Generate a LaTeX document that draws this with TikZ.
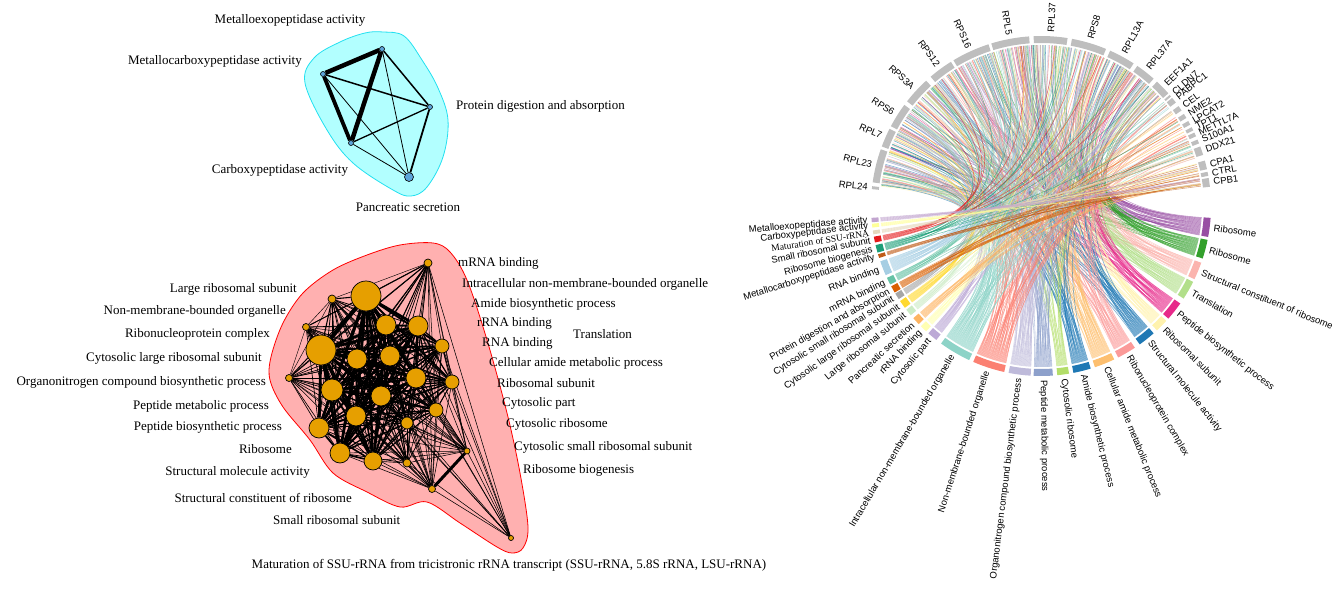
\documentclass[tikz,border=0pt]{standalone}
\usepackage{fontspec}
\setmainfont{Liberation Serif}
\newfontfamily\chordfont{Liberation Sans}
\usetikzlibrary{arrows}

\pgfdeclarelayer{hull}
\pgfdeclarelayer{edges}
\pgfsetlayers{hull,edges,main}

\definecolor{cyanhull}{HTML}{B2FFFF}
\definecolor{cyanline}{HTML}{22E0F0}
\definecolor{cyanball}{HTML}{5DA5DA}
\definecolor{redhull}{HTML}{FFB0B0}
\definecolor{goorange}{HTML}{E69F00}
\definecolor{genegray}{HTML}{BEBEBE}
\definecolor{trpurple}{HTML}{984EA3}
\definecolor{trgreen}{HTML}{33A02C}
\definecolor{trpink}{HTML}{FBB4AE}
\definecolor{trlgreen}{HTML}{B2DF8A}
\definecolor{trmagenta}{HTML}{E7298A}
\definecolor{trpyellow}{HTML}{FFF2AE}
\definecolor{trblue}{HTML}{1F78B4}
\definecolor{trsalmon}{HTML}{FB9A99}
\definecolor{trlorange}{HTML}{FDBF6F}
\definecolor{trylgreen}{HTML}{B3DE69}
\definecolor{trslate}{HTML}{8DA0CB}
\definecolor{trlav}{HTML}{BEBADA}
\definecolor{trred}{HTML}{FB8072}
\definecolor{trteal}{HTML}{8DD3C7}
\definecolor{trlavb}{HTML}{BCA9D6}
\definecolor{trlyellow}{HTML}{FFFFB3}
\definecolor{trorange}{HTML}{FDB462}
\definecolor{trlteal}{HTML}{CCEBC5}
\definecolor{trgold}{HTML}{FFD92F}
\definecolor{trgray}{HTML}{A6A6A6}
\definecolor{trdorange}{HTML}{D95F02}
\definecolor{trgteal}{HTML}{66C2A5}
\definecolor{trlblue}{HTML}{A6CEE3}
\definecolor{trbrown}{HTML}{BF5B17}
\definecolor{trdgreen}{HTML}{1B9E77}
\definecolor{trcrimson}{HTML}{E41A1C}
\definecolor{trbeige}{HTML}{E5D8BD}
\definecolor{tryellow}{HTML}{FFFF99}
\definecolor{trmauve}{HTML}{C2A5CF}

\tikzset{
  lbl/.style={inner sep=0pt, font=\fontsize{13}{15}\selectfont},
  cnode/.style={circle, draw=black, fill=cyanball, inner sep=0pt, minimum size=5pt, line width=0.6pt},
  onode/.style={circle, draw=black, fill=goorange, inner sep=0pt, line width=0.7pt},
  glabel/.style={inner sep=0pt, font=\chordfont\fontsize{9.5}{10}\selectfont},
  link/.style={line width=0.55pt, draw opacity=0.6},
}

\def\radii{{4,15,4,10,10,7,3.5,15,10,10,3.5,10,7,11,10,7,10,6,10,10,9,4,3,3.5,2.5}}

\begin{document}
\begin{tikzpicture}[x=1pt, y=-1pt]
\useasboundingbox (0,0) rectangle (1344,593);

% peptidase cluster
\node[cnode](mexo) at (382,49) {};
\node[cnode](mcarb) at (323,74) {};
\node[cnode](pdig) at (430,107) {};
\node[cnode](carb) at (351,143) {};
\node[cnode, minimum size=9pt](psec) at (409,177) {};
\node[lbl](l-mexo) at (290,20) {Metalloexopeptidase activity};
\node[lbl, anchor=east](l-mcarb) at (302,61) {Metallocarboxypeptidase activity};
\node[lbl, anchor=west](l-pdig) at (456,106) {Protein digestion and absorption};
\node[lbl](l-carb) at (280,170) {Carboxypeptidase activity};
\node[lbl](l-psec) at (408,207) {Pancreatic secretion};
%
\begin{pgfonlayer}{hull}
\fill[cyanhull, draw=cyanline, line width=0.8pt] plot[smooth cycle, tension=0.6] coordinates {
  (383,32) (404,36) (422,60) (438,88) (448,120) (443,157) (427,187) (411,196)
  (393,190) (353,163) (327,130) (305,83) (314,58) (340,42) (365,33)};
\end{pgfonlayer}
\begin{pgfonlayer}{edges}
\draw[line width=4.5pt](mcarb) -- (mexo);
\draw[line width=3.8pt](mcarb) -- (carb);
\draw[line width=4.5pt](mexo) -- (carb);
\draw[line width=1.5pt](mcarb) -- (pdig);
\draw[line width=1.5pt](mexo) -- (pdig);
\draw[line width=1.3pt](carb) -- (pdig);
\draw[line width=1.8pt](pdig) -- (psec);
\draw[line width=0.8pt](mexo) -- (psec);
\draw[line width=0.8pt](mcarb) -- (psec);
\draw[line width=0.8pt](carb) -- (psec);
\end{pgfonlayer}

% ribosome cluster
\foreach \x/\y/\r [count=\i] in {428/263/4, 366/296/15, 332/299/4, 386/325/10, 418/326/10,
    442/346/7, 306/327/3.5, 321/350/15, 357/359/10, 390/356/10, 289/378/3.5, 416/378/10,
    452/382/7, 332/390/11, 381/396/10, 436/410/7, 356/416/10, 407/423/6, 319/428/10,
    340/453/10, 373/461/9, 407/463/4, 467/451/3, 432/489/3.5, 511/538/2.5}
  \node[onode, minimum size=2*\r pt](n\i) at (\x,\y) {};
%
\begin{pgfonlayer}{hull}
\fill[redhull, draw=red, line width=0.8pt] plot[smooth cycle, tension=0.55] coordinates {
  (433,243) (450,252) (467,280) (487,340) (507,413) (520,473) (528,527) (523,548)
  (512,553) (497,547) (460,523) (427,502) (400,507) (367,492) (333,473) (310,440)
  (283,407) (270,380) (271,357) (283,323) (303,293) (333,270) (367,255) (400,245)};
\end{pgfonlayer}
\begin{pgfonlayer}{edges}
\foreach \i in {1,...,22} {
  \foreach \j in {\i,...,22} {
    \ifnum\j>\i
      \pgfmathsetmacro\w{max(0.45,\radii[\i-1]*\radii[\j-1]/55)}
      \draw[line width=\w pt](n\i) -- (n\j);
    \fi
  }
}
\foreach \j in {1,...,22} {
  \draw[line width=0.55pt](n23) -- (n\j);
  \draw[line width=0.55pt](n24) -- (n\j);
}
\draw[line width=3pt](n23) -- (n24);
\foreach \j in {1,5,6,9,12,13,15,16,18,22,23,24}
  \draw[line width=0.55pt](n25) -- (n\j);
\end{pgfonlayer}
%
\node[lbl, anchor=east](l-lrs) at (297,289) {Large ribosomal subunit};
\node[lbl, anchor=east](l-nmb) at (286,311) {Non-membrane-bounded organelle};
\node[lbl, anchor=east](l-rnp) at (270,334) {Ribonucleoprotein complex};
\node[lbl, anchor=east](l-clr) at (262,358) {Cytosolic large ribosomal subunit};
\node[lbl, anchor=east](l-onc) at (266,382) {Organonitrogen compound biosynthetic process};
\node[lbl, anchor=east](l-pmp) at (269,406) {Peptide metabolic process};
\node[lbl, anchor=east](l-pbp) at (282,427) {Peptide biosynthetic process};
\node[lbl, anchor=east](l-rib) at (292,449) {Ribosome};
\node[lbl, anchor=east](l-sma) at (310,472) {Structural molecule activity};
\node[lbl, anchor=east](l-scr) at (352,498) {Structural constituent of ribosome};
\node[lbl, anchor=west](l-srs) at (273,520) {Small ribosomal subunit};
\node[lbl, anchor=west](l-mrna) at (458,263) {mRNA binding};
\node[lbl, anchor=west](l-inb) at (462,284) {Intracellular non-membrane-bounded organelle};
\node[lbl, anchor=west](l-abp) at (471,304) {Amide biosynthetic process};
\node[lbl, anchor=west](l-rrna) at (477,323) {rRNA binding};
\node[lbl, anchor=west](l-trl) at (573,334) {Translation};
\node[lbl, anchor=west](l-rna) at (482,343) {RNA binding};
\node[lbl, anchor=west](l-cam) at (489,363) {Cellular amide metabolic process};
\node[lbl, anchor=west](l-rsu) at (497,383) {Ribosomal subunit};
\node[lbl, anchor=west](l-cpt) at (502,403) {Cytosolic part};
\node[lbl, anchor=west](l-cro) at (506,424) {Cytosolic ribosome};
\node[lbl, anchor=west](l-csr) at (514,447) {Cytosolic small ribosomal subunit};
\node[lbl, anchor=west](l-rbg) at (523,470) {Ribosome biogenesis};
\node[lbl](l-mat) at (509,565) {Maturation of SSU-rRNA from tricistronic rRNA transcript (SSU-rRNA, 5.8S rRNA, LSU-rRNA)};

% chord plot
\begin{scope}[shift={(1041,206)}, yscale=-1]
\pgfmathsetseed{42}
\foreach \a/\b/\col/\lo/\hi/\txt [count=\i] in {
    349.5/356/trpurple/41/173/Ribosome,
    342/348.5/trgreen/41/173/Ribosome,
    334.5/340.5/trpink/41/173/Structural constituent of ribosome,
    327/333.5/trlgreen/41/173/Translation,
    318.5/325/trmagenta/41/173/Peptide biosynthetic process,
    313/317.5/trpyellow/41/173/Ribosomal subunit,
    305.5/311.5/trblue/41/173/Structural molecule activity,
    297/303.5/trsalmon/17/173/Ribonucleoprotein complex,
    288.5/295.5/trlorange/41/173/Cellular amide metabolic process,
    281/287/trblue/41/173/Amide biosynthetic process,
    275.5/279.5/trylgreen/41/173/Cytosolic ribosome,
    267.5/274/trslate/41/173/Peptide metabolic process,
    259/266.5/trlav/41/173/Organonitrogen compound biosynthetic process,
    246.5/257.5/trred/17/173/Non-membrane-bounded organelle,
    234/245/trteal/17/173/Intracellular non-membrane-bounded organelle,
    228.5/232/trlavb/41/173/Cytosolic part,
    225/227.5/trlyellow/17/173/rRNA binding,
    221.3/224/trorange/7/36/Pancreatic secretion,
    217.6/220/trlteal/41/173/Large ribosomal subunit,
    214/216.8/trgold/41/173/Cytosolic large ribosomal subunit,
    211/213.2/trgray/41/173/Cytosolic small ribosomal subunit,
    208.2/210.6/trdorange/7/36/Protein digestion and absorption,
    205/207.5/trgteal/17/173/mRNA binding,
    199/204/trlblue/17/173/RNA binding,
    196.5/197.8/trbrown/7/15.5/Metallocarboxypeptidase activity,
    193.3/195.9/trdgreen/17/173/Ribosome biogenesis,
    190.4/192.4/trcrimson/41/173/Small ribosomal subunit,
    188.3/189.6/trbeige/17/21/{\rmfamily Maturation of SSU-rRNA},
    186/187.3/tryellow/7/15.5/Carboxypeptidase activity,
    184/185.5/trmauve/7/15.5/Metalloexopeptidase activity} {
  \pgfmathtruncatemacro\n{max(3,round((\b-\a)*5))}
  \foreach \j in {1,...,\n} {
    \pgfmathsetmacro\sg{\a+(\j-0.5)*(\b-\a)/\n}
    \pgfmathsetmacro\tg{\lo+rnd*(\hi-\lo)}
    \draw[link, draw=\col] (\sg:161) .. controls (\sg:50) and (\tg:50) .. (\tg:161);
  }
  \fill[\col] (\a:163) arc[start angle=\a, end angle=\b, radius=163] -- (\b:170)
    arc[start angle=\b, end angle=\a, radius=170] -- cycle;
  \pgfmathsetmacro\m{(\a+\b)/2}
  \ifdim\m pt<270pt
    \node[glabel, anchor=east, rotate=\m-180](t\i) at (\m:174) {\txt};
  \else
    \node[glabel, anchor=west, rotate=\m](t\i) at (\m:174) {\txt};
  \fi
}
%
\foreach \a/\b/\g in {173.3/174.3/RPL24, 160.5/172/RPL23, 153/159.5/RPL7, 143.5/152/RPS6,
    132.5/142/RPS3A, 122/130.5/RPS12, 108/121/RPS16, 94/107/RPL5, 81/92.5/RPL37,
    67.5/79.5/RPS8, 57/66/RPL13A, 48.5/55.5/RPL37A, 41.5/47/EEF1A1, 40.1/40.8/CLDN7,
    37.5/39.5/PABPC1, 34.2/36/CEL, 31.2/32.8/NME2, 28.6/30/LPCAT2, 26.4/27.6/TPT1,
    24.2/25.6/METTL7A, 21.6/23/S100A1, 17.5/20.5/DDX21, 12.5/15.5/CPA1, 10.2/11.6/CTRL,
    6.5/9.5/CPB1} {
  \fill[genegray] (\a:163) arc[start angle=\a, end angle=\b, radius=163] -- (\b:170)
    arc[start angle=\b, end angle=\a, radius=170] -- cycle;
  \pgfmathsetmacro\m{(\a+\b)/2}
  \ifdim\m pt>90pt
    \node[glabel, anchor=east, rotate=\m-180](g-\g) at (\m:174) {\g};
  \else
    \node[glabel, anchor=west, rotate=\m](g-\g) at (\m:174) {\g};
  \fi
}
\end{scope}
\end{tikzpicture}
\end{document}
